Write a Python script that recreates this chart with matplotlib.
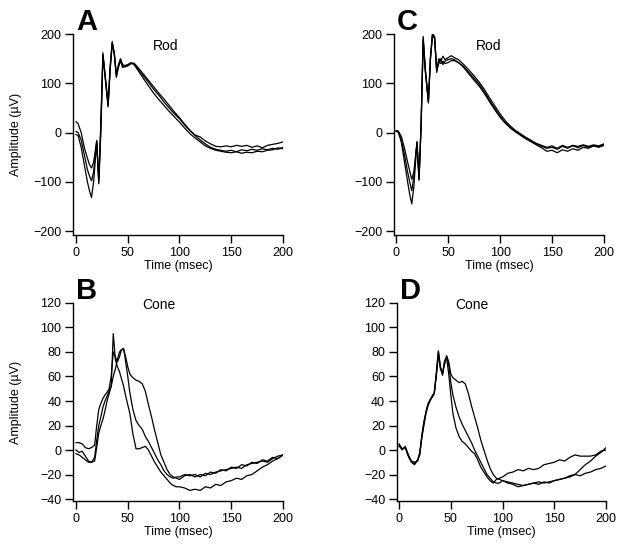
from matplotlib import pyplot as plt
import numpy as np

plt.rcParams['font.family'] = ['Liberation Sans', 'DejaVu Sans']

# ---- rod responses (panels A and C), time in msec, amplitude in uV ----
t_rod = [0, 2, 5, 8, 11, 13, 15, 17, 20, 22, 24, 26, 28, 31, 33, 35, 37, 39, 41, 43,
         45, 47, 50, 53, 56, 60, 65, 70, 75, 80, 85, 90, 95, 100, 105, 110, 115, 120,
         125, 130, 135, 140, 145, 150, 155, 160, 165, 170, 175, 180, 185, 190, 195, 200]

rod_a1 = [22, 18, 0, -30, -52, -65, -72, -60, -18, -95, 20, 158, 120, 55, 130, 182, 160, 115, 135, 148,
          135, 133, 135, 140, 140, 128, 115, 102, 88, 76, 62, 50, 38, 28, 15, 4, -5, -9,
          -17, -23, -28, -29, -27, -29, -26, -28, -26, -30, -27, -31, -26, -24, -22, -19]
rod_a2 = [2, 0, -15, -45, -75, -88, -98, -80, -16, -100, 10, 162, 115, 52, 135, 185, 158, 112, 132, 146,
          132, 135, 138, 142, 138, 126, 110, 95, 80, 67, 55, 43, 32, 21, 9, -2, -11, -19,
          -27, -32, -36, -38, -40, -41, -39, -42, -40, -41, -38, -39, -36, -35, -31, -33]
rod_a3 = [-4, -6, -30, -65, -100, -118, -132, -100, -20, -104, 0, 155, 118, 58, 128, 180, 162, 118, 138, 150,
          138, 136, 137, 140, 141, 132, 119, 106, 93, 80, 68, 55, 42, 30, 17, 5, -6, -15,
          -23, -30, -34, -36, -38, -36, -39, -35, -37, -34, -36, -33, -35, -32, -34, -30]

rod_c1 = [3, 2, -20, -60, -100, -125, -145, -110, -18, -95, 20, 195, 130, 62, 150, 200, 195, 125, 140, 150,
          138, 145, 148, 150, 148, 142, 132, 119, 106, 94, 79, 62, 46, 31, 19, 9, 1, -6,
          -13, -19, -25, -31, -38, -36, -41, -35, -38, -33, -36, -30, -32, -27, -30, -26]
rod_c2 = [2, 1, -15, -45, -80, -100, -118, -90, -20, -97, 15, 190, 125, 65, 155, 198, 190, 128, 145, 140,
          145, 140, 142, 146, 146, 142, 134, 122, 110, 98, 82, 65, 49, 33, 20, 10, 2, -5,
          -12, -18, -24, -28, -32, -30, -34, -28, -32, -27, -31, -26, -30, -27, -29, -24]
rod_c3 = [4, 3, -8, -32, -60, -78, -95, -80, -22, -90, 10, 188, 128, 60, 150, 202, 192, 122, 150, 145,
          155, 148, 152, 156, 152, 148, 138, 127, 115, 102, 87, 70, 54, 38, 24, 13, 4, -3,
          -10, -16, -22, -26, -30, -27, -32, -26, -30, -26, -28, -25, -28, -25, -27, -23]

# ---- cone responses (panels B and D) ----
t_cone = [0, 3, 6, 9, 12, 15, 18, 20, 22, 24, 26, 28, 30, 32, 34, 36, 38, 40, 42, 44,
          46, 48, 50, 52, 55, 58, 61, 64, 67, 70, 73, 76, 79, 82, 85, 88, 91, 94, 97, 100,
          105, 110, 115, 120, 125, 130, 135, 140, 145, 150, 155, 160, 165, 170, 175, 180,
          185, 190, 195, 200]

cone_b1 = [-3, -4, -6, -8, -10, -10, -6, 8, 20, 27, 35, 40, 44, 48, 52, 95, 74, 68, 64, 58,
           52, 44, 37, 30, 13, 1, 1, 2, 3, 0, -5, -10, -14, -18, -21, -24, -27, -29, -30, -30,
           -31, -33, -32, -33, -30, -31, -28, -29, -26, -25, -23, -24, -21, -20, -17, -14,
           -12, -9, -7, -4]
cone_b2 = [6, 6, 5, 2, 1, 2, 4, 20, 33, 38, 42, 45, 47, 50, 60, 80, 76, 72, 76, 82,
           83, 72, 60, 47, 33, 24, 20, 17, 11, 7, 2, -3, -8, -12, -17, -20, -22, -23, -22, -22,
           -20, -21, -20, -22, -19, -20, -18, -17, -16, -15, -14, -15, -12, -11, -10, -9,
           -10, -7, -5, -4]
cone_b3 = [0, -2, -1, -5, -9, -10, -9, 2, 14, 20, 25, 32, 40, 46, 52, 60, 66, 74, 80, 82,
           82, 76, 68, 62, 59, 57, 56, 54, 48, 37, 27, 16, 6, -4, -10, -16, -20, -22, -23, -24,
           -21, -20, -22, -20, -21, -18, -19, -16, -17, -14, -15, -12, -13, -10, -11, -8,
           -9, -6, -7, -4]

cone_d1 = [4, 0, 3, -4, -9, -10, -9, -3, 10, 20, 30, 36, 41, 43, 46, 62, 80, 68, 62, 72,
           77, 72, 62, 59, 57, 55, 56, 54, 46, 36, 27, 18, 8, 0, -8, -15, -20, -23, -24, -25,
           -27, -28, -30, -29, -28, -27, -28, -26, -27, -25, -24, -23, -22, -20, -21, -19,
           -18, -16, -15, -13]
cone_d2 = [3, 1, 2, -5, -10, -11, -8, -4, 11, 22, 31, 37, 40, 44, 47, 60, 78, 66, 63, 70,
           76, 70, 55, 45, 35, 27, 21, 16, 11, 6, 0, -5, -10, -15, -20, -23, -26, -27, -27, -25,
           -26, -27, -28, -29, -28, -27, -26, -27, -26, -25, -24, -23, -21, -20, -16, -12,
           -9, -5, -2, 2]
cone_d3 = [5, 1, 2, -5, -10, -12, -8, -2, 12, 23, 31, 38, 41, 44, 46, 63, 81, 67, 61, 73,
           75, 62, 45, 30, 18, 11, 7, 5, 2, -1, -3, -8, -14, -18, -22, -25, -27, -24, -23, -22,
           -19, -18, -16, -17, -15, -16, -15, -12, -11, -10, -8, -9, -6, -4, -5, -5,
           -5, -4, -1, 0]

rod_ticks = [-200, -100, 0, 100, 200]
cone_ticks = [-40, -20, 0, 20, 40, 60, 80, 100, 120]
time_ticks = [0, 50, 100, 150, 200]


def setup_axis(ax, yticks, ylim, xlim, ylabel=True):
    ax.set_xlim(*xlim)
    ax.set_ylim(*ylim)
    ax.set_xticks(time_ticks)
    ax.set_yticks(yticks)
    for side in ['top', 'right']:
        ax.spines[side].set_visible(False)
    for side in ['left', 'bottom']:
        ax.spines[side].set_linewidth(1.0)
    ax.spines['left'].set_bounds(ylim[0], yticks[-1])
    ax.tick_params(direction='out', length=6, width=1.0, labelsize=9, pad=2.5)
    ax.set_xlabel('Time (msec)', fontsize=9, labelpad=1)
    if ylabel:
        ax.set_ylabel('Amplitude (\u00b5V)', fontsize=9)
        ax.yaxis.set_label_coords(-0.245, 0.5)


fig = plt.figure(figsize=(6.24, 5.54), dpi=100)

ax_a = fig.add_axes([0.117, 0.5758, 0.3365, 0.3628])
ax_b = fig.add_axes([0.117, 0.0957, 0.3365, 0.3574])
ax_c = fig.add_axes([0.6314, 0.5758, 0.3365, 0.3628])
ax_d = fig.add_axes([0.6362, 0.0957, 0.335, 0.3574])

for series in [rod_a1, rod_a2, rod_a3]:
    ax_a.plot(t_rod, series, color='black', lw=0.9)
for series in [rod_c1, rod_c2, rod_c3]:
    ax_c.plot(t_rod, series, color='black', lw=0.9)
for series in [cone_b1, cone_b2, cone_b3]:
    ax_b.plot(t_cone, series, color='black', lw=0.9)
for series in [cone_d1, cone_d2, cone_d3]:
    ax_d.plot(t_cone, series, color='black', lw=0.9)

setup_axis(ax_a, rod_ticks, (-208, 200), (-2.9, 200))
setup_axis(ax_c, rod_ticks, (-208, 200), (-2.1, 200), ylabel=False)
setup_axis(ax_b, cone_ticks, (-41.6, 120), (-2.9, 200))
setup_axis(ax_d, cone_ticks, (-41.6, 120), (-2.0, 200), ylabel=False)

# panel titles
ax_a.text(0.44, 0.94, 'Rod', transform=ax_a.transAxes, ha='center', va='center', fontsize=10)
ax_c.text(0.45, 0.94, 'Rod', transform=ax_c.transAxes, ha='center', va='center', fontsize=10)
ax_b.text(0.41, 0.99, 'Cone', transform=ax_b.transAxes, ha='center', va='center', fontsize=10)
ax_d.text(0.36, 0.99, 'Cone', transform=ax_d.transAxes, ha='center', va='center', fontsize=10)

# panel letters
for ax, letter in [(ax_a, 'A'), (ax_b, 'B'), (ax_c, 'C'), (ax_d, 'D')]:
    ax.text(0.015, 1.02, letter, transform=ax.transAxes, ha='left', va='baseline',
            fontsize=21, fontweight='bold')

fig.savefig('out.png', dpi=100)
